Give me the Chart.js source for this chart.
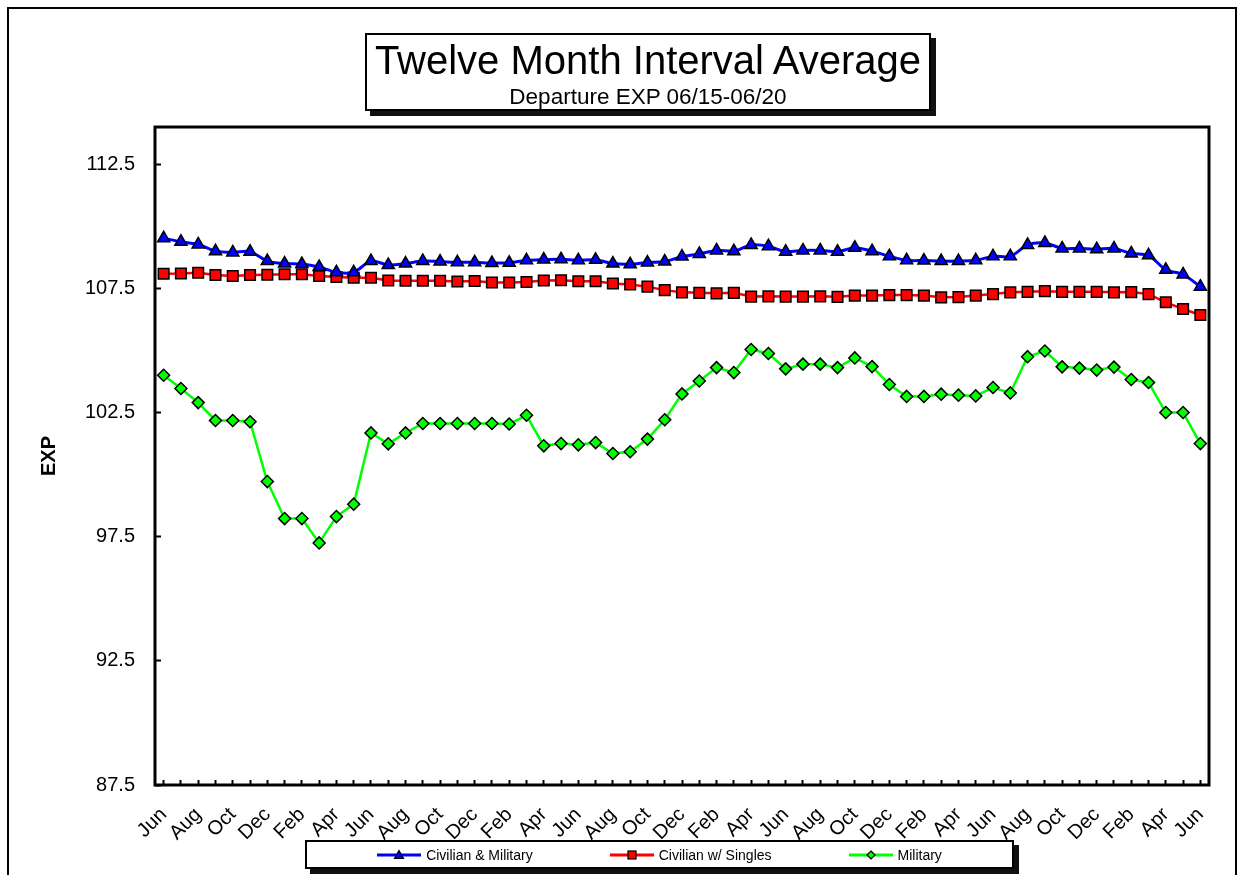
<!DOCTYPE html>
<html>
<head>
    <title>Twelve Month Interval Average</title>
    <style>
        body { margin: 0; background: #fff; font-family: 'Liberation Sans', Arial, sans-serif; }
        #wrap { position: relative; width: 1238px; height: 875px; overflow: hidden; }
        #frame {
            position: absolute; left: 7px; top: 7px; width: 1230px; height: 900px;
            border: 2px solid #000; box-sizing: border-box;
        }
        canvas { position: absolute; left: 0; top: 0; }
        .box {
            position: absolute; background: #fff; border: 2px solid #000;
            box-sizing: border-box; box-shadow: 5px 5px 0 #111;
        }
        #titleBox { left: 365px; top: 33px; width: 566px; height: 78px; text-align: center; }
        #titleBox .main { position: absolute; left: 0; right: 0; top: 5px; font-size: 40px; line-height: 40px; }
        #titleBox .sub { position: absolute; left: 0; right: 0; top: 51px; font-size: 22.5px; line-height: 22px; }
        #legend {
            left: 305px; top: 840px; width: 709px; height: 29px;
            display: flex; justify-content: center; align-items: center; gap: 77px;
            font-size: 14px;
        }
        .item { display: flex; align-items: center; gap: 5px; }
    </style>
</head>
<body>
<div id="wrap">
    <canvas id="chart" width="1238" height="875"></canvas>
    <div id="frame"></div>
    <div class="box" id="titleBox">
        <div class="main">Twelve Month Interval Average</div>
        <div class="sub">Departure EXP 06/15-06/20</div>
    </div>
    <div class="box" id="legend"></div>
</div>

<script src="https://cdn.jsdelivr.net/npm/chart.js"></script>
<script>
    // 月份 Jun 2015 - Jun 2020
    const months = [
        'Jun','Jul','Aug','Sep','Oct','Nov','Dec','Jan','Feb','Mar','Apr','May',
        'Jun','Jul','Aug','Sep','Oct','Nov','Dec','Jan','Feb','Mar','Apr','May',
        'Jun','Jul','Aug','Sep','Oct','Nov','Dec','Jan','Feb','Mar','Apr','May',
        'Jun','Jul','Aug','Sep','Oct','Nov','Dec','Jan','Feb','Mar','Apr','May',
        'Jun','Jul','Aug','Sep','Oct','Nov','Dec','Jan','Feb','Mar','Apr','May',
        'Jun'
    ];
    const civMil = [
        109.52,109.38,109.27,109.00,108.95,108.98,108.60,108.50,108.48,108.36,108.15,108.15,
        108.60,108.44,108.50,108.60,108.58,108.55,108.55,108.52,108.53,108.63,108.66,108.67,
        108.63,108.65,108.50,108.47,108.54,108.58,108.78,108.89,109.03,109.00,109.25,109.20,
        108.98,109.03,109.03,108.98,109.14,109.00,108.79,108.63,108.62,108.60,108.60,108.63,
        108.79,108.79,109.25,109.33,109.11,109.11,109.08,109.11,108.91,108.83,108.25,108.06,
        107.57
    ];
    const civSingles = [
        108.09,108.10,108.13,108.04,108.00,108.04,108.05,108.07,108.07,108.00,107.96,107.93,
        107.93,107.82,107.81,107.81,107.81,107.78,107.80,107.74,107.74,107.76,107.82,107.83,
        107.79,107.79,107.70,107.66,107.57,107.43,107.34,107.32,107.30,107.32,107.17,107.18,
        107.17,107.17,107.18,107.16,107.21,107.21,107.23,107.23,107.21,107.14,107.15,107.21,
        107.27,107.34,107.36,107.39,107.36,107.36,107.36,107.34,107.35,107.27,106.94,106.67,
        106.43
    ];
    const military = [
        104.00,103.47,102.90,102.18,102.18,102.13,99.72,98.23,98.23,97.25,98.31,98.81,
        101.68,101.24,101.68,102.06,102.06,102.06,102.06,102.06,102.04,102.39,101.16,101.25,
        101.20,101.29,100.85,100.92,101.43,102.21,103.25,103.77,104.31,104.11,105.04,104.88,
        104.26,104.45,104.45,104.31,104.70,104.35,103.63,103.15,103.15,103.24,103.20,103.17,
        103.51,103.29,104.75,104.98,104.34,104.29,104.21,104.33,103.83,103.71,102.50,102.50,
        101.25
    ];
    const yTicks = [87.5, 92.5, 97.5, 102.5, 107.5, 112.5];

    const font = "'Liberation Sans', Arial, sans-serif";

    // 图表区边框
    const plotBorder = {
        id: 'plotBorder',
        beforeDatasetsDraw(chart) {
            const a = chart.chartArea, ctx = chart.ctx;
            ctx.save();
            ctx.strokeStyle = '#000';
            ctx.lineWidth = 3;
            ctx.strokeRect(a.left, a.top, a.right - a.left, a.bottom - a.top);
            ctx.restore();
        }
    };

    const chart = new Chart(document.getElementById('chart'), {
        type: 'line',
        data: {
            labels: months,
            datasets: [
                {
                    label: 'Civilian & Military', data: civMil,
                    borderColor: '#0000ff', backgroundColor: '#0000ff', borderWidth: 3,
                    pointStyle: 'triangle', pointRadius: 7, pointBorderColor: '#000',
                    pointBorderWidth: 1.5, tension: 0.3, markSize: 9
                },
                {
                    label: 'Civilian w/ Singles', data: civSingles,
                    borderColor: '#ff0000', backgroundColor: '#ff0000', borderWidth: 2.5,
                    pointStyle: 'rect', pointRadius: 7.5, pointBorderColor: '#000',
                    pointBorderWidth: 1.5, tension: 0, markSize: 8
                },
                {
                    label: 'Military', data: military,
                    borderColor: '#00ff00', backgroundColor: '#00ff00', borderWidth: 2.5,
                    pointStyle: 'rectRot', pointRadius: 6, pointBorderColor: '#000',
                    pointBorderWidth: 1.5, tension: 0, markSize: 8
                }
            ]
        },
        options: {
            responsive: false,
            animation: false,
            layout: { padding: { left: 28, top: 127, right: 29, bottom: 0 } },
            plugins: { legend: { display: false }, title: { display: false }, tooltip: { enabled: false } },
            scales: {
                x: {
                    offset: true,
                    border: { display: false },
                    grid: { offset: false, drawOnChartArea: false, tickLength: -5, tickWidth: 2, tickColor: '#000' },
                    ticks: {
                        autoSkip: false, maxRotation: 45, minRotation: 45, padding: 23,
                        color: '#000', font: { family: font, size: 20 },
                        callback: (v, i) => i % 2 === 0 ? months[i] : ''
                    },
                    afterFit: s => { s.height = 90; s.paddingRight = 0; }
                },
                y: {
                    min: 87.5, max: 114,
                    border: { display: false },
                    grid: { drawOnChartArea: false, tickLength: -6, tickWidth: 2, tickColor: '#000' },
                    ticks: {
                        padding: 26, color: '#000', font: { family: font, size: 20 },
                        callback: v => v.toFixed(1)
                    },
                    afterBuildTicks: s => { s.ticks = yTicks.map(v => ({ value: v })); },
                    title: {
                        display: true, text: 'EXP', color: '#000',
                        font: { family: font, size: 20, weight: 'bold' }, padding: { top: 9, bottom: 0 }
                    },
                    afterFit: s => { s.width = 127; }
                }
            }
        },
        plugins: [plotBorder]
    });

    // 图例
    function markSvg(ds) {
        const c = 10, s = ds.markSize;
        let shape = '';
        if (ds.pointStyle === 'triangle') {
            shape = `<polygon points="${c},${c - s / 2} ${c + s / 2},${c + s / 2 - 1} ${c - s / 2},${c + s / 2 - 1}"`;
        } else if (ds.pointStyle === 'rect') {
            shape = `<rect x="${c - s / 2}" y="${c - s / 2}" width="${s}" height="${s}"`;
        } else {
            shape = `<polygon points="${c},${c - s / 2} ${c + s / 2},${c} ${c},${c + s / 2} ${c - s / 2},${c}"`;
        }
        return `<svg width="44" height="20" viewBox="-12 0 44 20">
            <line x1="-12" y1="10" x2="32" y2="10" stroke="${ds.borderColor}" stroke-width="3"/>
            ${shape} fill="${ds.backgroundColor}" stroke="#000" stroke-width="1.2"/></svg>`;
    }
    document.getElementById('legend').innerHTML = chart.data.datasets.map(ds =>
        `<div class="item">${markSvg(ds)}<span>${ds.label}</span></div>`).join('');
</script>
</body>
</html>
